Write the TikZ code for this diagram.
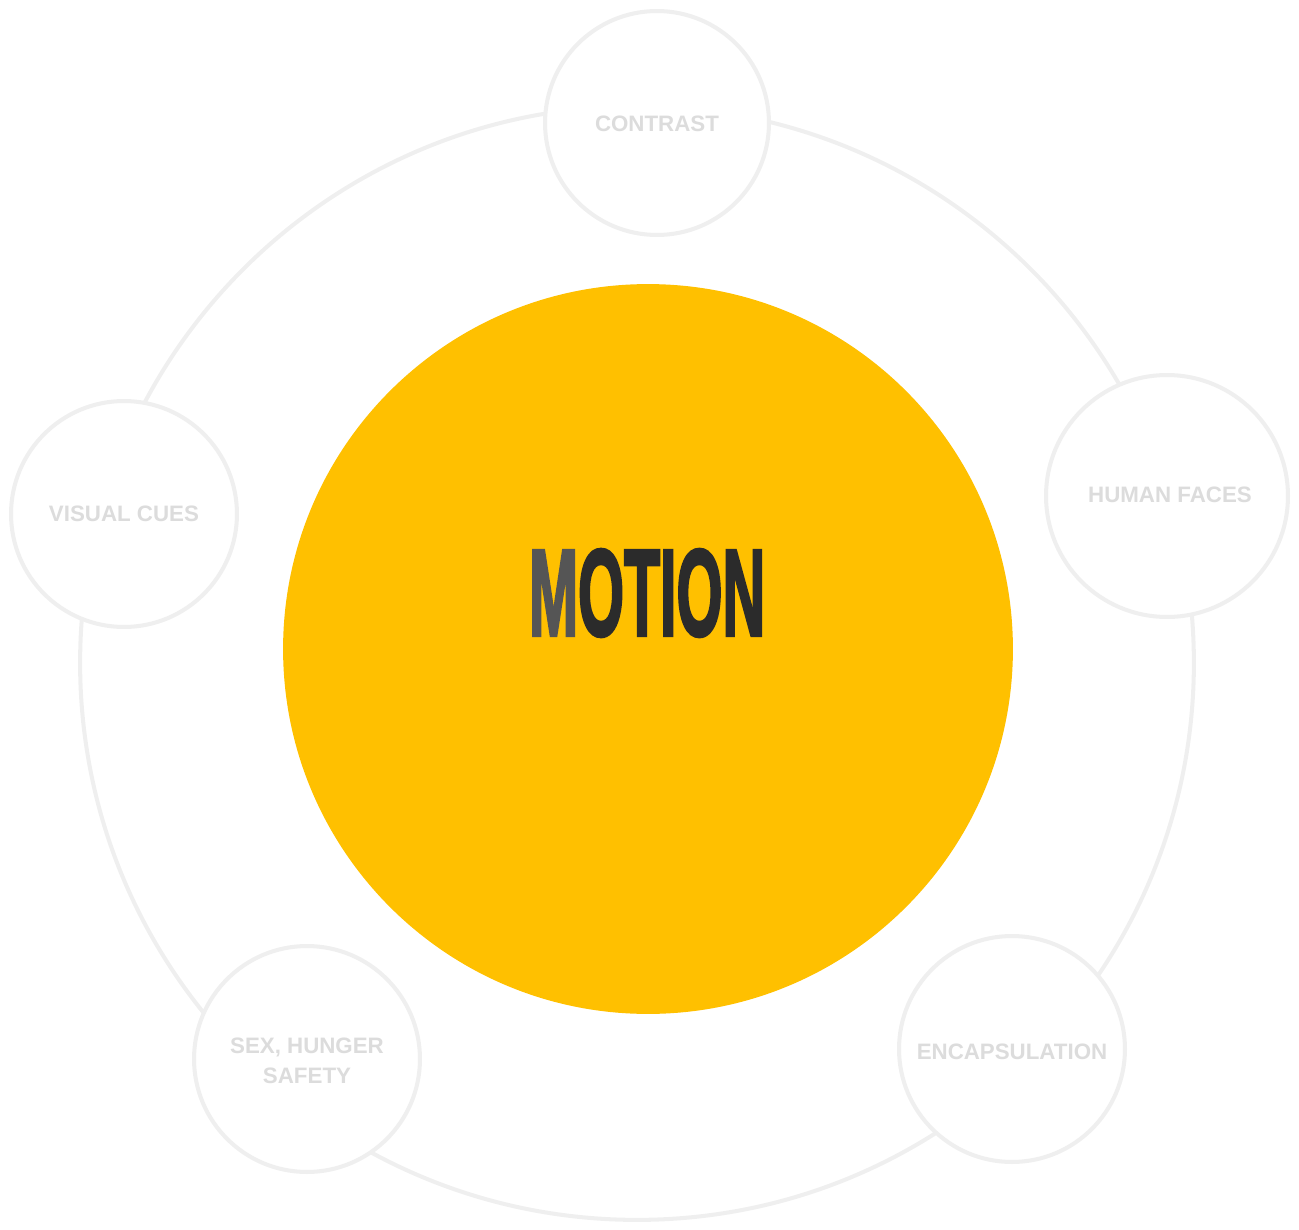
\documentclass[tikz,border=0pt]{standalone}
\usepackage{fontspec}
\setmainfont{Liberation Sans}
\newfontfamily\motionfont[FakeBold=3]{Liberation Sans Bold}
\usepackage{tikz}
\definecolor{myellow}{HTML}{FFC000}
\definecolor{mring}{HTML}{EFEFEF}
\definecolor{mlabel}{HTML}{DCDCDC}
\definecolor{mdark}{HTML}{2B2B2B}
\definecolor{mfade}{HTML}{555555}
\begin{document}
\begin{tikzpicture}[x=0.02cm, y=-0.02cm,
    cue/.style={circle, draw=mring, line width=2.3pt, fill=white, inner sep=0pt, text=mlabel, font=\bfseries\fontsize{12.7}{17}\selectfont, align=center}]
          \useasboundingbox (0,0) rectangle (1299,1230);
          \coordinate (ringc) at (637,663);
          \draw [mring, line width=2.3pt] (ringc) circle [radius=11.14cm];

          \node [circle, fill=myellow, inner sep=0pt, minimum size=14.6cm] (motion) at (648,649) {};
          \node [text=mdark, inner sep=0pt] (motionlabel) at (647,593) {\scalebox{0.48}[1]{\fontsize{70}{72}\motionfont {\color{mfade}M}OTION}};

          \node [cue, minimum size=4.48cm] (contrast) at (657,123) {};
          \node [cue, minimum size=4.84cm] (faces) at (1167,496) {};
          \node [cue, minimum size=4.52cm] (visual) at (124,514) {};
          \node [cue, minimum size=4.52cm] (needs) at (307,1059) {};
          \node [cue, minimum size=4.52cm] (encaps) at (1012,1049) {};

          \node [cue, draw=none, fill=none] (contrastlabel) at (657,124) {CONTRAST};
          \node [cue, draw=none, fill=none] (faceslabel) at (1170,495) {HUMAN FACES};
          \node [cue, draw=none, fill=none] (visuallabel) at (124,514) {VISUAL CUES};
          \node [cue, draw=none, fill=none] (needslabel) at (307,1061) {SEX, HUNGER\\SAFETY};
          \node [cue, draw=none, fill=none] (encapslabel) at (1012,1052) {ENCAPSULATION};
        \end{tikzpicture}
\end{document}
